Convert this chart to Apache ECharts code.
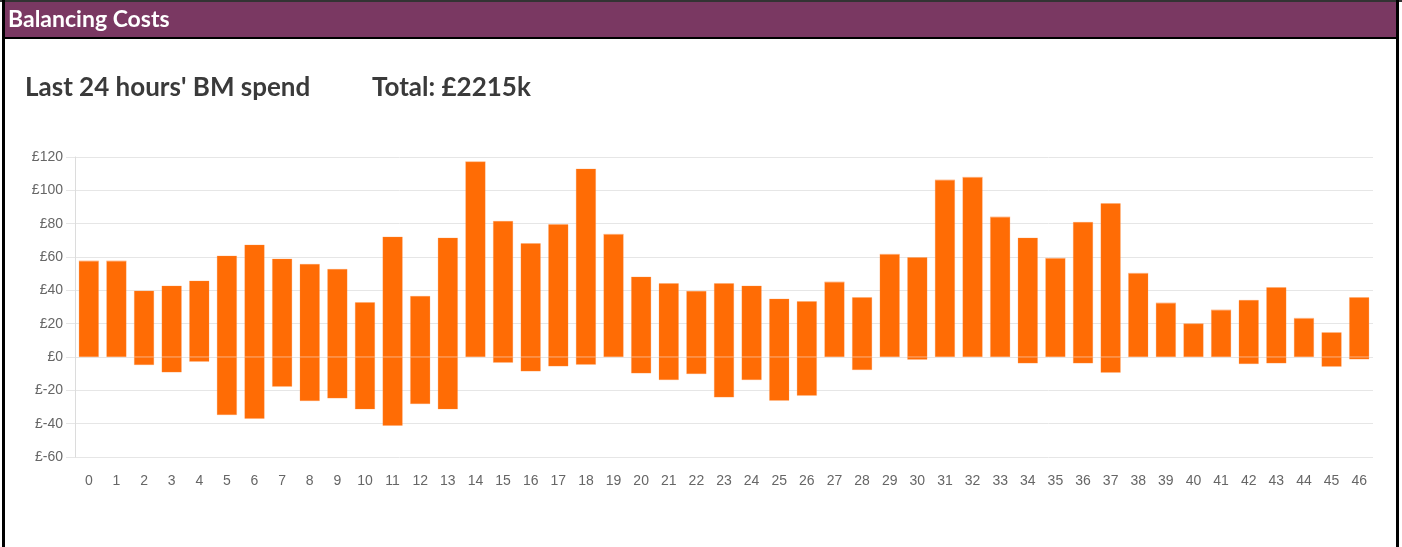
<!DOCTYPE html>
<html>
<head>
<meta charset="utf-8">
<script src="https://cdn.jsdelivr.net/npm/echarts@6/dist/echarts.min.js"></script>
<style>
html,body{margin:0;padding:0;background:#fff;}
#c{width:1402px;height:547px;}
</style>
</head>
<body>
<div id="c"></div>
<script>
const headerText = 'Balancing Costs';
const titleText = "Last 24 hours' BM spend";
const totalText = 'Total: £2215k';
const categories = ['0','1','2','3','4','5','6','7','8','9','10','11','12','13','14','15','16','17','18','19','20','21','22','23','24','25','26','27','28','29','30','31','32','33','34','35','36','37','38','39','40','41','42','43','44','45','46'];
const positiveSpend = [57.6,57.6,39.8,42.8,45.8,60.8,67.4,59.0,55.8,52.8,32.8,72.2,36.6,71.6,117.2,81.6,68.2,79.6,113.0,73.6,48.2,44.2,39.6,44.2,42.8,35.0,33.4,45.0,35.8,61.6,59.8,106.2,107.8,84.0,71.6,59.2,81.0,92.2,50.2,32.4,20.0,28.2,34.2,41.8,23.2,14.8,35.8];
const negativeSpend = [0,0,-4.8,-9.2,-2.8,-34.8,-37.0,-17.8,-26.4,-24.8,-31.4,-41.2,-28.2,-31.4,0,-3.4,-8.6,-5.6,-4.6,0,-9.8,-13.8,-10.2,-24.2,-13.8,-26.2,-23.2,0,-7.8,0,-1.6,0,0,0,-3.8,0,-3.8,-9.4,0,0,0,0,-4.2,-3.8,0,-5.8,-1.4];
const yTicks = [-60,-40,-20,0,20,40,60,80,100,120];

const chart = echarts.init(document.getElementById('c'), null, {renderer:'canvas'});
const orange = '#ff6c05';
chart.setOption({
  animation:false,
  backgroundColor:'#fff',
  graphic:[
    {type:'rect', shape:{x:0,y:0,width:1402,height:2}, style:{fill:'#333'}},
    {type:'rect', shape:{x:3,y:2,width:1394,height:35}, style:{fill:'#7a3862'}},
    {type:'rect', shape:{x:3,y:37,width:1394,height:2}, style:{fill:'#000'}},
    {type:'rect', shape:{x:2,y:0,width:3,height:547}, style:{fill:'#000'}},
    {type:'rect', shape:{x:1396,y:0,width:3,height:547}, style:{fill:'#000'}},
    {type:'text', left:8, top:8, style:{text:headerText, fill:'#fff', font:'bold 23px Lato, "Open Sans", sans-serif'}},
    {type:'text', left:25, top:75, style:{text:titleText, fill:'#3a3a3a', font:'bold 26px Lato, "Open Sans", sans-serif'}},
    {type:'text', left:372, top:75, style:{text:totalText, fill:'#3a3a3a', font:'bold 26px Lato, "Open Sans", sans-serif'}}
  ],
  grid:{left:75, right:29, top:157, bottom:90, containLabel:false},
  xAxis:{
    type:'category', data:categories,
    axisLine:{show:false}, axisTick:{show:false},
    axisLabel:{color:'#666', fontSize:14, fontFamily:'"Liberation Sans", Arial, sans-serif', margin:17, interval:0}
  },
  yAxis:{
    type:'value', min:-60, max:120, interval:20,
    axisLine:{show:true, lineStyle:{color:'#dcdcdc'}},
    axisTick:{show:true, length:9, lineStyle:{color:'#e6e6e6'}},
    splitLine:{lineStyle:{color:'#e6e6e6', width:1}},
    axisLabel:{color:'#666', fontSize:14, fontFamily:'"Liberation Sans", Arial, sans-serif', margin:12,
      formatter:function(v){ return yTicks.indexOf(v)>=0 ? '£'+v : ''; }}
  },
  series:[
    {type:'bar', name:'pos', stack:'bm', data:positiveSpend, barWidth:20,
     itemStyle:{color:orange, borderColor:'rgba(255,150,80,0.5)', borderWidth:0.5}},
    {type:'bar', name:'neg', stack:'bm', data:negativeSpend, barWidth:20,
     itemStyle:{color:orange, borderColor:'rgba(255,150,80,0.5)', borderWidth:0.5}}
  ]
});
</script>
</body>
</html>
